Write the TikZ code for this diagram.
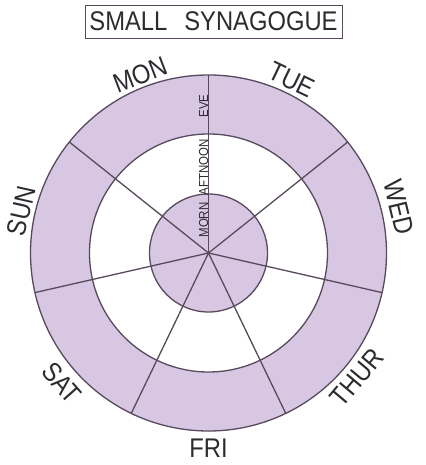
\documentclass[tikz,border=0pt]{standalone}
\usepackage{fontspec}
\setmainfont{Liberation Sans}[FakeStretch=0.88]
\usetikzlibrary{calc}
\definecolor{lilac}{RGB}{216,199,226}
\definecolor{ink}{RGB}{88,74,92}
\definecolor{txt}{RGB}{45,42,48}
\begin{document}
\begin{tikzpicture}[x=1pt,y=1pt,
  ringline/.style={draw=ink,line width=1.3pt},
  daylabel/.style={text=txt,inner sep=0pt,font=\fontsize{27}{27}\selectfont},
  periodlabel/.style={text=txt,inner sep=0.6pt,rotate=90,anchor=south,font=\fontsize{13}{13}\selectfont}]
\useasboundingbox (0,0) rectangle (425,465);
\coordinate (c) at (208.5,212);
\fill[lilac] (c) circle (178);
\fill[white] (c) circle (119);
\fill[lilac] (c) circle (59);
\draw[ringline] (c) circle (178) (c) circle (119) (c) circle (59);
\foreach \i in {0,...,6} \draw[ringline] (c) -- ++({90+\i*360/7}:178);
% title
\node[draw=ink,line width=0.9pt,minimum width=257pt,minimum height=33pt,inner sep=0pt,
      text=txt,font=\fontsize{27}{27}\selectfont] (title) at (213.5,443.5) {SMALL\hspace{17pt}SYNAGOGUE};
% day labels
\node[daylabel,rotate=21] (mon) at ($(c)+(111:191)$) {MON};
\node[daylabel,rotate=-25.6] (tue) at ($(c)+(64.4:192)$) {TUE};
\node[daylabel,rotate=-76.5] (wed) at ($(c)+(13.5:196)$) {WED};
\node[daylabel,rotate=50] (thur) at ($(c)+(320:194)$) {THUR};
\node[daylabel] (fri) at ($(c)+(270:195)$) {FRI};
\node[daylabel,rotate=-48.5] (sat) at ($(c)+(221.5:196)$) {SAT};
\node[daylabel,rotate=77.3] (sun) at ($(c)+(167.3:192)$) {SUN};
% period labels
\node[periodlabel] (morn) at (209,245) {MORN};
\node[periodlabel] (aft) at (209,297.5) {AFTNOON};
\node[periodlabel] (eve) at (209,359) {EVE};
\end{tikzpicture}
\end{document}
